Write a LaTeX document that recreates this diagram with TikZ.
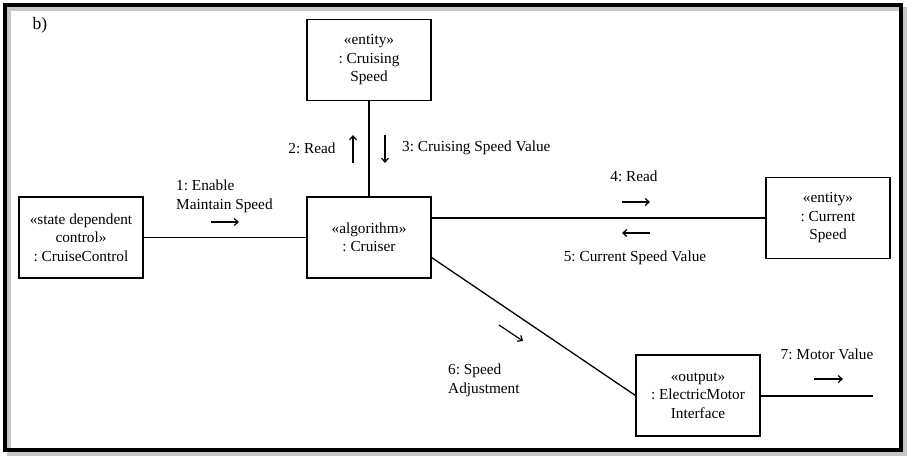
\documentclass[tikz,border=0pt]{standalone}
\usepackage{fontspec}
\setmainfont{Liberation Serif}
\usetikzlibrary{positioning,arrows.meta}

\begin{document}
\frenchspacing
\begin{tikzpicture}[x=1pt,y=-1pt]
\tikzset{every node/.style={font=\fontsize{15.3}{18.5}\selectfont}}
\tikzset{obj/.style={draw,line width=1.1pt,minimum width=124pt,minimum height=81pt,inner sep=0pt,align=center}}
\tikzset{link/.style={line width=1.3pt}}
\tikzset{msg/.style={line width=1.2pt,-{Straight Barb[length=4pt,width=7pt,line width=1.2pt]}}}
\tikzset{lbl/.style={inner sep=0pt}}
\useasboundingbox (0,0) rectangle (912,461);
% frame
\draw[line width=4.5pt,black!22] (9,9) rectangle (905,454);
\draw[line width=4.5pt] (5,5) rectangle (901,450);
\node[lbl,font=\fontsize{17.5}{20}\selectfont] (tag) at (40,25.5) {b)};
% objects
\node[obj] (cspeed) at (369,60) {«entity»\\: Cruising\\Speed};
\node[obj] (ccontrol) at (81,237.5) {«state dependent\\control»\\: CruiseControl};
\node[obj] (cruiser) at (369,237.5) {«algorithm»\\: Cruiser};
\node[obj] (curspeed) at (828,218) {«entity»\\: Current\\Speed};
\node[obj] (motor) at (698,395.5) {«output»\\: ElectricMotor\\Interface};
\coordinate (motorout) at (873,395.5);
% links
\draw[link] (ccontrol) -- (cruiser);
\draw[link] (cspeed) -- (cruiser);
\draw[link] (cruiser.east |- curspeed.west) -- (curspeed.west);
\draw[link] ([yshift=-20pt]cruiser.east) -- (motor.west);
\draw[line width=2pt] (motor.east) -- (motorout);
% messages
\node[lbl,anchor=west,align=left] (m1) at (176,196.5) {1: Enable\\Maintain Speed};
\draw[msg] (211,222) -- (239,222);
\node[lbl] (m2) at (312,148) {2: Read};
\draw[msg] (353,163) -- (353,135);
\node[lbl,anchor=west] (m3) at (402,148) {3: Cruising Speed Value};
\draw[msg] (385,135) -- (385,163);
\node[lbl] (m4) at (634,176) {4: Read};
\draw[msg] (622,202) -- (650,202);
\node[lbl] (m5) at (635,258) {5: Current Speed Value};
\draw[msg] (650,233) -- (622,233);
\node[lbl,anchor=west,align=left] (m6) at (448,380.5) {6: Speed\\Adjustment};
\draw[msg] (499,325) -- (523,341);
\node[lbl] (m7) at (827,354) {7: Motor Value};
\draw[msg] (814,379) -- (843,379);
\end{tikzpicture}
\end{document}
